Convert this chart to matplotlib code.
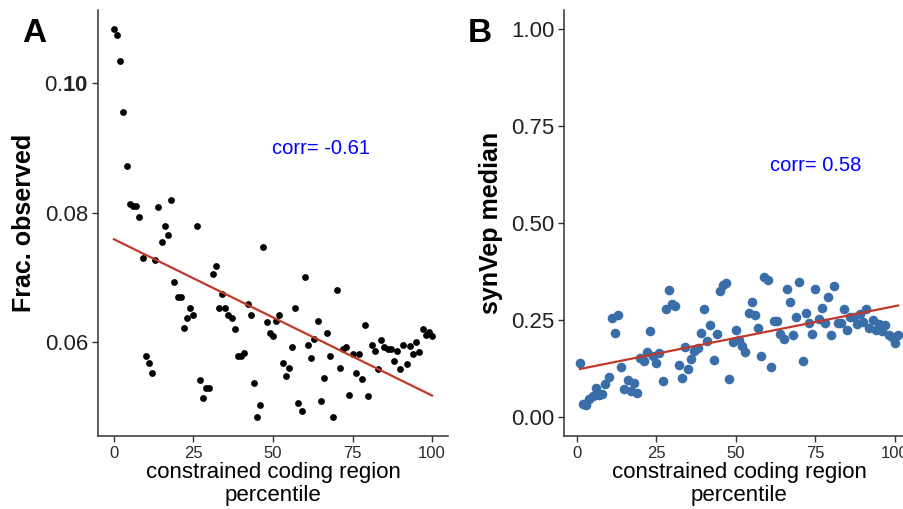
import numpy as np
import matplotlib
matplotlib.use("Agg")
import matplotlib.pyplot as plt

plt.rcParams['font.family'] = ['Liberation Sans', 'DejaVu Sans']
plt.rcParams['mathtext.fontset'] = 'custom'
plt.rcParams['mathtext.rm'] = 'Liberation Sans'
plt.rcParams['mathtext.bf'] = 'Liberation Sans:bold'

# panel A: fraction observed by CCR percentile
pct_a = np.arange(0, 101)
frac_obs = [
    0.1083, 0.1074, 0.1034, 0.0956, 0.0872, 0.0814, 0.0811, 0.0811, 0.0793, 0.0730,
    0.0579, 0.0567, 0.0552, 0.0727, 0.0809, 0.0755, 0.0779, 0.0765, 0.0819, 0.0693,
    0.0669, 0.0669, 0.0622, 0.0638, 0.0653, 0.0642, 0.0779, 0.0542, 0.0514, 0.0529,
    0.0529, 0.0705, 0.0718, 0.0652, 0.0675, 0.0652, 0.0642, 0.0638, 0.0620, 0.0579,
    0.0579, 0.0583, 0.0659, 0.0642, 0.0537, 0.0485, 0.0503, 0.0747, 0.0631, 0.0614,
    0.0609, 0.0633, 0.0642, 0.0567, 0.0547, 0.0560, 0.0592, 0.0652, 0.0506, 0.0494,
    0.0700, 0.0595, 0.0575, 0.0605, 0.0633, 0.0509, 0.0544, 0.0614, 0.0578, 0.0485,
    0.0680, 0.0560, 0.0590, 0.0592, 0.0518, 0.0581, 0.0553, 0.0581, 0.0543, 0.0627,
    0.0517, 0.0595, 0.0586, 0.0558, 0.0603, 0.0592, 0.0589, 0.0590, 0.0571, 0.0586,
    0.0558, 0.0595, 0.0566, 0.0594, 0.0582, 0.0600, 0.0584, 0.0620, 0.0611, 0.0615,
    0.0609,
]

# panel B: synVep median by CCR percentile
pct_b = np.arange(1, 102)
synvep = [
    0.139, 0.033, 0.029, 0.045, 0.053, 0.073, 0.056, 0.058, 0.083, 0.102,
    0.254, 0.217, 0.262, 0.127, 0.071, 0.095, 0.065, 0.088, 0.062, 0.151,
    0.144, 0.166, 0.222, 0.157, 0.139, 0.165, 0.093, 0.277, 0.326, 0.291,
    0.286, 0.133, 0.101, 0.181, 0.122, 0.150, 0.169, 0.176, 0.217, 0.279,
    0.196, 0.237, 0.146, 0.213, 0.325, 0.340, 0.344, 0.096, 0.194, 0.225,
    0.198, 0.182, 0.168, 0.268, 0.297, 0.263, 0.228, 0.157, 0.361, 0.354,
    0.127, 0.248, 0.248, 0.213, 0.200, 0.330, 0.297, 0.211, 0.258, 0.348,
    0.143, 0.268, 0.243, 0.213, 0.329, 0.252, 0.280, 0.243, 0.310, 0.211,
    0.337, 0.243, 0.243, 0.277, 0.225, 0.258, 0.258, 0.239, 0.265, 0.245,
    0.277, 0.228, 0.249, 0.224, 0.239, 0.222, 0.237, 0.211, 0.205, 0.191,
    0.211,
]

fig = plt.figure(figsize=(9.04, 5.09), dpi=100)
axA = fig.add_axes([0.1084, 0.1434, 0.3872, 0.8370])
axB = fig.add_axes([0.6239, 0.1434, 0.3872, 0.8370])

line_col = '#c0392b'


def style(ax):
    for s in ['top', 'right']:
        ax.spines[s].set_visible(False)
    for s in ['left', 'bottom']:
        ax.spines[s].set_color('#333333')
        ax.spines[s].set_linewidth(1.1)
    ax.tick_params(axis='both', direction='out', length=4, width=1, color='#333333')
    ax.tick_params(axis='x', labelsize=12, labelcolor='#2a2a2a', pad=3)
    ax.tick_params(axis='y', labelsize=16, labelcolor='#222222', pad=3)
    ax.set_xlabel('constrained coding region\npercentile', fontsize=16,
                  linespacing=1.1, labelpad=1)


# panel A
axA.scatter(pct_a, frac_obs, s=24, color='black', zorder=3, linewidths=0)
m, b = np.polyfit(pct_a, frac_obs, 1)
axA.plot([pct_a[0], pct_a[-1]], [m * pct_a[0] + b, m * pct_a[-1] + b],
         color=line_col, lw=1.6, zorder=4)
axA.set_xlim(-5, 105)
axA.set_ylim(0.0455, 0.1113)
axA.set_xticks([0, 25, 50, 75, 100])
axA.set_yticks([0.06, 0.08, 0.10])
axA.set_yticklabels(['0.06', '0.08', r'0.$\mathbf{10}$'])
axA.set_ylabel('Frac. observed', fontsize=18, fontweight='bold', labelpad=6)
axA.text(65, 0.0899, 'corr= -0.61', color='blue', fontsize=14.5,
         ha='center', va='center')
style(axA)

# panel B
axB.scatter(pct_b, synvep, s=48, color='#3a6ea8', zorder=3, linewidths=0)
m, b = np.polyfit(pct_b, synvep, 1)
axB.plot([pct_b[0], pct_b[-1]], [m * pct_b[0] + b, m * pct_b[-1] + b],
         color=line_col, lw=1.6, zorder=4)
axB.set_xlim(-4, 106)
axB.set_ylim(-0.05, 1.05)
axB.set_xticks([0, 25, 50, 75, 100])
axB.set_yticks([0.0, 0.25, 0.5, 0.75, 1.0])
axB.set_yticklabels(['0.00', '0.25', '0.50', '0.75', '1.00'])
axB.set_ylabel('synVep median', fontsize=18, fontweight='bold', labelpad=6)
axB.text(75, 0.648, 'corr= 0.58', color='blue', fontsize=14.5,
         ha='center', va='center')
style(axB)

fig.text(0.024, 0.935, 'A', fontsize=24, fontweight='bold', va='center', ha='left')
fig.text(0.517, 0.935, 'B', fontsize=24, fontweight='bold', va='center', ha='left')

fig.savefig('out.png', dpi=100)
